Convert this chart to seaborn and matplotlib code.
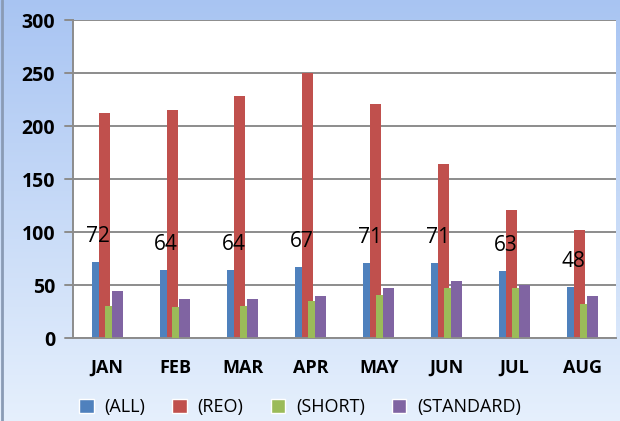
import numpy as np
import pandas as pd
import seaborn as sns
import matplotlib.pyplot as plt

months = ["JAN", "FEB", "MAR", "APR", "MAY", "JUN", "JUL", "AUG"]
series = ["(ALL)", "(REO)", "(SHORT)", "(STANDARD)"]
all_vals = [72, 64, 64, 67, 71, 71, 63, 48]
reo_vals = [212, 215, 228, 250, 221, 164, 121, 102]
short_vals = [30, 29, 30, 35, 41, 47, 47, 32]
standard_vals = [44, 37, 37, 40, 47, 54, 50, 40]
colors = ["#4f81bd", "#c0504d", "#9bbb59", "#8064a2"]

df = pd.DataFrame({
    "month": months * 4,
    "series": np.repeat(series, len(months)),
    "value": all_vals + reo_vals + short_vals + standard_vals,
})

sns.set_style("white")
plt.rcParams["font.family"] = ["Open Sans", "DejaVu Sans"]
plt.rcParams["text.color"] = "black"
plt.rcParams["xtick.color"] = "black"
plt.rcParams["ytick.color"] = "black"

fig = plt.figure(figsize=(6.2, 4.21), dpi=100)

# gradient background
bg = fig.add_axes([0, 0, 1, 1], zorder=0)
grad = np.linspace(0, 1, 256).reshape(-1, 1)
top = np.array([0.66, 0.77, 0.95])
bot = np.array([0.90, 0.94, 0.99])
img = top[None, None, :] * (1 - grad[:, :, None]) + bot[None, None, :] * grad[:, :, None]
bg.imshow(img, aspect="auto", extent=[0, 1, 0, 1])
bg.axvline(0.004, color="#8a9bb5", lw=2)
bg.set_xlim(0, 1)
bg.set_ylim(0, 1)
bg.set_axis_off()

ax = fig.add_axes([0.118, 0.197, 0.876, 0.755], zorder=1)
ax.set_facecolor("white")
sns.barplot(data=df, x="month", y="value", hue="series", palette=colors,
            width=0.46, saturation=1, ax=ax, legend=True)

# excel-like overlapping bar layout inside each group
offsets = [(-0.228, -0.125), (-0.125, 0.037), (-0.037, 0.066), (0.066, 0.228)]
for k, cont in enumerate(ax.containers):
    for i, bar in enumerate(cont):
        bar.set_x(i + offsets[k][0])
        bar.set_width(offsets[k][1] - offsets[k][0])
        bar.set_zorder(2 + (1 if k == 2 else 0))
        bar.set_linewidth(0)

ax.set_ylim(0, 300)
ax.set_xlim(-0.5, len(months) - 0.5)
ax.set_yticks(range(0, 301, 50))
ax.yaxis.grid(True, color="#8c8c8c", lw=1.4)
ax.set_axisbelow(True)
for s in ["top", "right"]:
    ax.spines[s].set_visible(False)
for s in ["left", "bottom"]:
    ax.spines[s].set_color("#8c8c8c")
    ax.spines[s].set_linewidth(1.4)
ax.set_xlabel("")
ax.set_ylabel("")
ax.tick_params(axis="y", labelsize=14, length=0, pad=13)
ax.tick_params(axis="x", labelsize=13, length=0, pad=15)
for lbl in ax.get_yticklabels() + ax.get_xticklabels():
    lbl.set_fontweight("bold")
ax.set_xticks(np.arange(-0.5, len(months), 1), minor=True)
ax.tick_params(axis="x", which="minor", length=6, color="#8c8c8c", width=1.4)
for y in range(0, 301, 50):
    ax.plot([-0.62, -0.5], [y, y], color="#8c8c8c", lw=1.4, clip_on=False)

# labels for (ALL)
for i, v in enumerate(all_vals):
    ax.annotate(str(v), (i - 0.13, v), xytext=(0, 11), textcoords="offset points",
                ha="center", va="bottom", fontsize=15)

handles, labels = ax.get_legend_handles_labels()
ax.get_legend().remove()
fig.legend(handles, labels, loc="center", bbox_to_anchor=(0.484, 0.033), ncol=4,
           frameon=False, fontsize=13, handlelength=0.8, handleheight=0.8,
           columnspacing=1.5, handletextpad=0.6)

fig.savefig("out.png", dpi=100)
